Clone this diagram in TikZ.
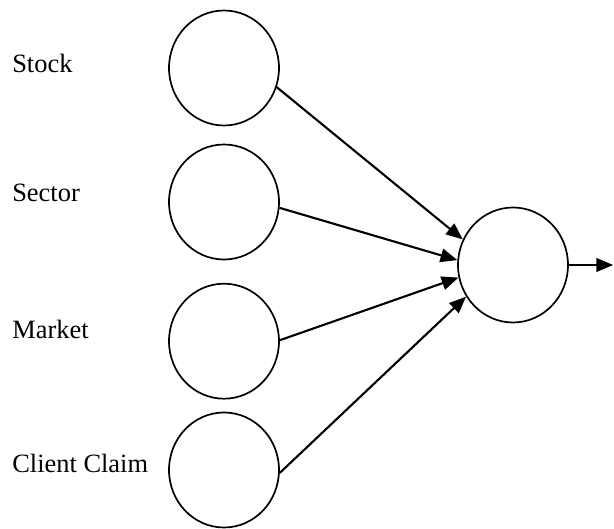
\documentclass[tikz,border=0pt]{standalone}
\usepackage{fontspec}
\setmainfont{Liberation Serif}
\usetikzlibrary{shapes.geometric,arrows.meta}
\tikzstyle{neuron} = [ellipse, minimum width=2.75cm, minimum height=2.875cm, inner sep=0pt, draw=black, line width=1.2pt]
\tikzstyle{inlabel} = [anchor=base west, inner sep=0pt, font=\fontsize{18.8}{22}\selectfont]
\tikzstyle{arrow} = [line width=1.5pt,-{Triangle[length=0.42cm,width=0.34cm]}]
\begin{document}
\begin{tikzpicture}[node distance=3.35cm]
      \useasboundingbox (0,0) rectangle (15.35,-13.225);
      \node (s1)[neuron] at (5.6,-1.7) {};
      \node (s2)[neuron, below of=s1]{};
      \node (s3)[neuron, below of=s2, yshift=-0.13cm]{};
      \node (s4)[neuron, below of=s3, yshift=0.13cm]{};
      \node (out)[neuron] at (12.825,-6.625) {};
      \node (l1)[inlabel] at (0.3,-1.825) {Stock};
      \node (l2)[inlabel] at (0.3,-5.05) {Sector};
      \node (l3)[inlabel] at (0.3,-8.475) {Market};
      \node (l4)[inlabel] at (0.3,-11.8) {Client Claim};
      \coordinate (end) at (15.33,-6.625);
      \draw[arrow] (s1.340)--(out.153);
      \draw[arrow] (s2.354)--(out.175);
      \draw[arrow] (s3.1)--(out.193);
      \draw[arrow] (s4.357)--(out.214);
      \draw[arrow] (out.east)--(end);
    \end{tikzpicture}
\end{document}
